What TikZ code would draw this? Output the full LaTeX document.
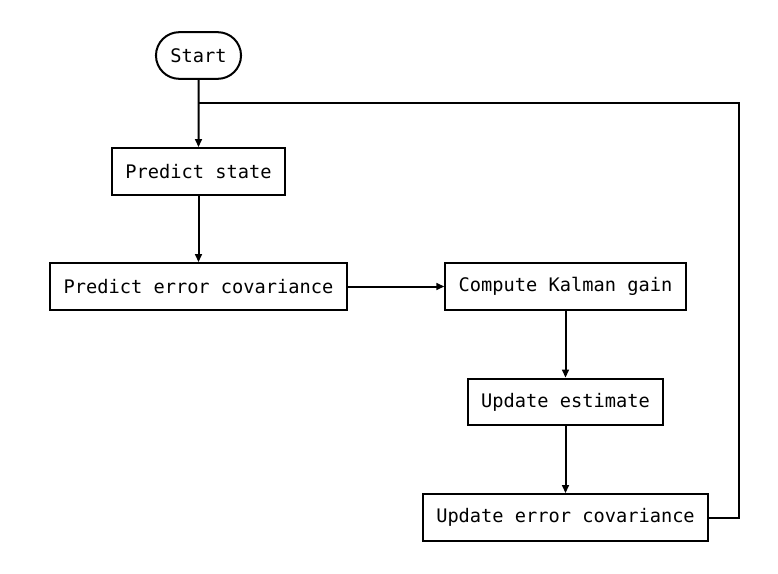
\documentclass[tikz,border=0pt]{standalone}
\usepackage{fontspec}
\setmonofont{DejaVu Sans Mono}
\usetikzlibrary{arrows.meta,shapes.misc,positioning}

\tikzset{
  stepbox/.style={draw, line width=1.5pt, fill=white, font=\ttfamily\fontsize{14}{16}\selectfont, inner xsep=10pt, minimum height=35pt},
  startbox/.style={stepbox, rounded rectangle},
  flow/.style={line width=1.5pt, -{Triangle[length=6pt,width=5pt]}}
}

\begin{document}
\begin{tikzpicture}[x=0.75pt, y=-0.75pt]
            \useasboundingbox (0,0) rectangle (778,574);
            \node[startbox] (start) at (198.5,55.5) {Start};
            \node[stepbox] (predstate) at (198.5,171.5) {Predict state};
            \node[stepbox] (predcov) at (198.5,286.5) {Predict error covariance};
            \node[stepbox] (gain) at (565.5,286.5) {Compute Kalman gain};
            \node[stepbox] (estimate) at (565.5,402) {Update estimate};
            \node[stepbox] (updcov) at (565.5,517.5) {Update error covariance};
            \coordinate (join) at (198.5,103);
            
            \draw[flow] (start) -- (predstate);
            \draw[flow] (predstate) -- (predcov);
            \draw[flow] (predcov) -- (gain);
            \draw[flow] (gain) -- (estimate);
            \draw[flow] (estimate) -- (updcov);
            \draw[line width=1.5pt] (updcov.east) -- ++(30,0) |- (join);
        \end{tikzpicture}
\end{document}
